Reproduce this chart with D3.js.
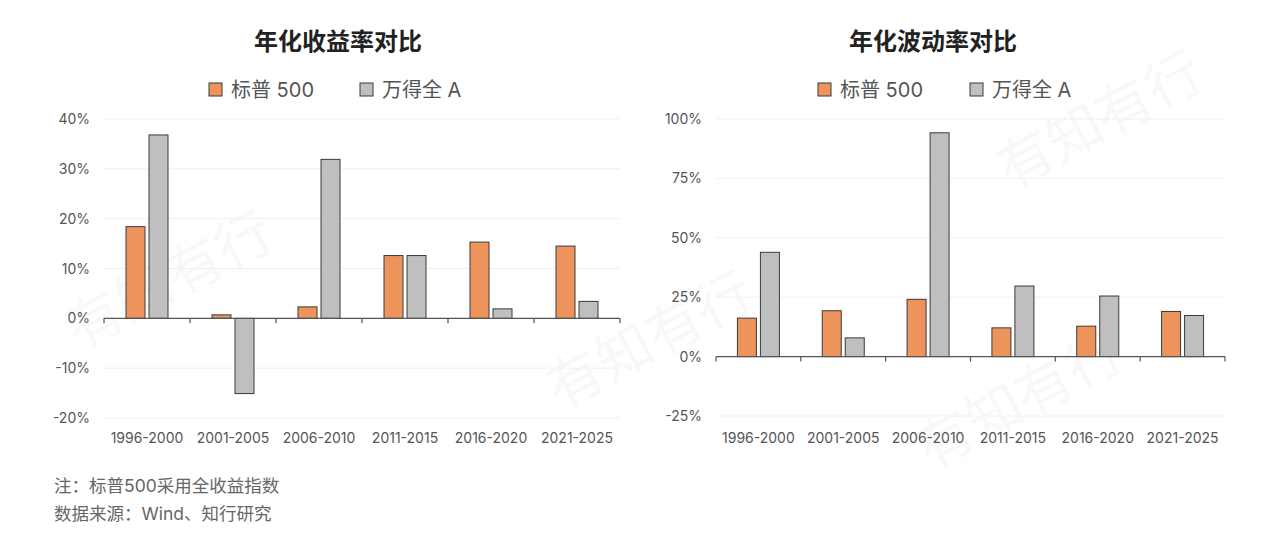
<!DOCTYPE html>
<html>
<head>
<meta charset="utf-8">
<script src="https://cdn.jsdelivr.net/npm/d3@7"></script>
<style>
  body { margin: 0; background: #fff; }
  text { font-family: Inter, "Noto Sans CJK SC", sans-serif; }
</style>
</head>
<body>
<div id="chart"></div>
<script>
// periods on the x axis
var periods = ["1996-2000", "2001-2005", "2006-2010", "2011-2015", "2016-2020", "2021-2025"];
var seriesNames = ["标普 500", "万得全 A"];

// annualised return, %
var returnSp500 = [18.4, 0.7, 2.3, 12.6, 15.3, 14.5];
var returnWindA = [36.8, -15.1, 31.9, 12.6, 1.9, 3.4];
var returnTicks = [-20, -10, 0, 10, 20, 30, 40];

// annualised volatility, %
var volSp500 = [16.2, 19.3, 24.1, 12.1, 12.8, 19.0];
var volWindA = [43.9, 7.9, 94.2, 29.7, 25.5, 17.3];
var volTicks = [-25, 0, 25, 50, 75, 100];

var config = {
    colors: ['#EC945C', '#BFBFBF'],
    stroke: '#3a3a3a',
    grid: '#f0f0f0',
    axis: '#555',
    label: '#555',
    width: 1280,
    height: 558
};

var svg = d3.select('#chart').append('svg')
    .attr('width', config.width)
    .attr('height', config.height);

// faint watermark
var wm = [[80, 350], [560, 410], [930, 470], [1010, 190]];
wm.forEach(function (p) {
    svg.append('text')
        .attr('transform', 'translate(' + p[0] + ',' + p[1] + ') rotate(-28)')
        .attr('font-size', 56)
        .attr('font-family', '"Noto Sans CJK SC"')
        .style('fill', '#f8f8f8')
        .text('有知有行');
});

function drawPanel(opt) {
    var x = d3.scaleBand().domain(periods).range([opt.x0, opt.x1]);
    var y = d3.scaleLinear().domain(opt.domain).range([opt.yBottom, opt.yTop]);
    var barW = 19, gap = 4;

    var g = svg.append('g');

    // title
    g.append('text')
        .attr('x', opt.cx).attr('y', 50)
        .attr('text-anchor', 'middle')
        .attr('font-size', 24)
        .attr('font-weight', 'bold')
        .attr('font-family', '"Noto Sans CJK SC"')
        .style('fill', '#222')
        .text(opt.title);

    // legend
    seriesNames.forEach(function (name, i) {
        var lx = opt.legendX[i];
        g.append('rect')
            .attr('x', lx).attr('y', 83)
            .attr('width', 13).attr('height', 13)
            .style('fill', config.colors[i])
            .style('stroke', config.stroke).style('stroke-width', 1);
        g.append('text')
            .attr('x', lx + 22).attr('y', 97)
            .attr('font-size', 20)
            .style('fill', '#555')
            .text(name);
    });

    // gridlines
    g.selectAll('.grid').data(opt.ticks.filter(function (t) { return t !== 0; }))
        .enter().append('line')
        .attr('x1', opt.x0).attr('x2', opt.x1)
        .attr('y1', function (d) { return y(d); })
        .attr('y2', function (d) { return y(d); })
        .style('stroke', config.grid).style('stroke-width', 1);

    // y labels
    g.selectAll('.ylab').data(opt.ticks).enter().append('text')
        .attr('x', opt.x0 - 14)
        .attr('y', function (d) { return y(d) + 5; })
        .attr('text-anchor', 'end')
        .attr('font-size', 14)
        .style('fill', config.label)
        .text(function (d) { return d + '%'; });

    // bars
    var series = [opt.a, opt.b];
    series.forEach(function (vals, s) {
        g.selectAll('.bar' + s).data(vals).enter().append('rect')
            .attr('x', function (d, i) {
                var c = x(periods[i]) + x.bandwidth() / 2;
                return s === 0 ? c - gap / 2 - barW : c + gap / 2;
            })
            .attr('y', function (d) { return y(Math.max(d, 0)); })
            .attr('width', barW)
            .attr('height', function (d) { return Math.abs(y(d) - y(0)); })
            .style('fill', config.colors[s])
            .style('stroke', config.stroke).style('stroke-width', 1);
    });

    // zero axis with ticks
    g.append('line')
        .attr('x1', opt.x0).attr('x2', opt.x1)
        .attr('y1', y(0)).attr('y2', y(0))
        .style('stroke', config.axis).style('stroke-width', 1.2);
    var bounds = periods.map(function (p) { return x(p); }).concat([opt.x1]);
    g.selectAll('.tick').data(bounds).enter().append('line')
        .attr('x1', function (d) { return d; }).attr('x2', function (d) { return d; })
        .attr('y1', y(0)).attr('y2', y(0) + 5)
        .style('stroke', config.axis).style('stroke-width', 1.2);

    // x labels
    g.selectAll('.xlab').data(periods).enter().append('text')
        .attr('x', function (d) { return x(d) + x.bandwidth() / 2; })
        .attr('y', 443)
        .attr('text-anchor', 'middle')
        .attr('font-size', 14)
        .style('fill', config.label)
        .text(function (d) { return d; });
}

drawPanel({
    title: '年化收益率对比', cx: 338,
    x0: 104, x1: 620, yTop: 119, yBottom: 418,
    domain: [-20, 40], ticks: returnTicks,
    legendX: [209, 360],
    a: returnSp500, b: returnWindA
});

drawPanel({
    title: '年化波动率对比', cx: 933,
    x0: 716, x1: 1225, yTop: 119, yBottom: 416,
    domain: [-25, 100], ticks: volTicks,
    legendX: [818, 970],
    a: volSp500, b: volWindA
});

// footnotes
var notes = ['注：标普500采用全收益指数', '数据来源：Wind、知行研究'];
svg.selectAll('.note').data(notes).enter().append('text')
    .attr('x', 54)
    .attr('y', function (d, i) { return 492 + i * 28; })
    .attr('font-size', 17.5)
    .attr('font-family', '"Noto Sans CJK SC"')
    .style('fill', '#666')
    .text(function (d) { return d; });
</script>
</body>
</html>
